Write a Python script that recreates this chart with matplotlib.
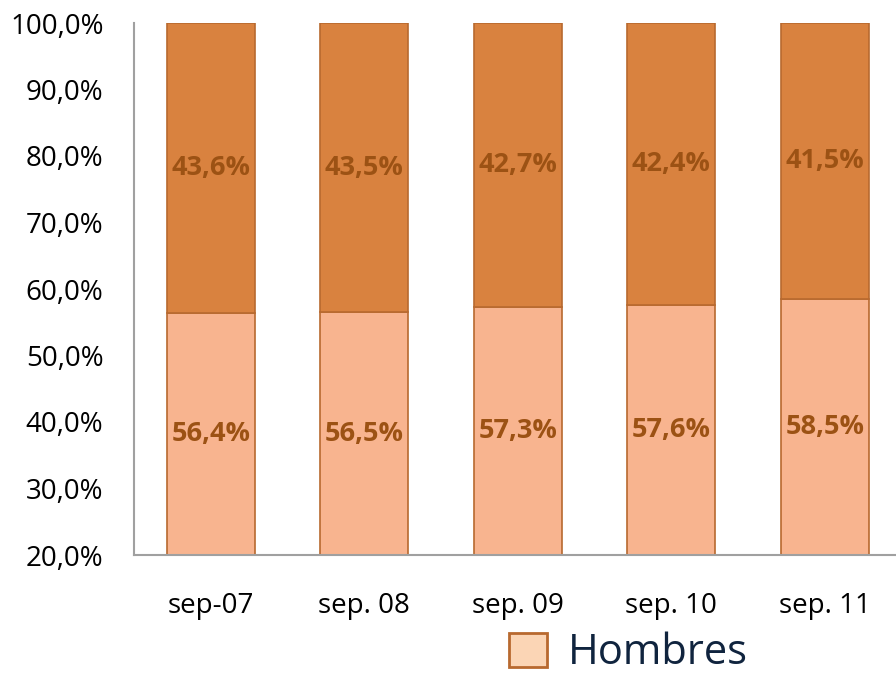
import numpy as np
import matplotlib
matplotlib.use("Agg")
import matplotlib.pyplot as plt
from matplotlib.ticker import FuncFormatter

# data
periodos = ["sep-07", "sep. 08", "sep. 09", "sep. 10", "sep. 11"]
hombres = [56.4, 56.5, 57.3, 57.6, 58.5]
mujeres = [43.6, 43.5, 42.7, 42.4, 41.5]
yticks = [20, 30, 40, 50, 60, 70, 80, 90, 100]

plt.rcParams['font.family'] = ['Open Sans', 'DejaVu Sans']

fig = plt.figure(figsize=(8.96, 6.77), dpi=100)
ax = fig.add_axes([134 / 896, 122 / 677, 767.5 / 896, 532 / 677])

x = np.arange(len(periodos))
edge = "#B8692F"
b1 = ax.bar(x, hombres, width=0.573, color="#F8B48F", edgecolor=edge, linewidth=1.2, label="Hombres")
b2 = ax.bar(x, mujeres, width=0.573, bottom=hombres, color="#D9823F", edgecolor=edge, linewidth=1.2, label="Mujeres")

ymin, ymax = 20, 100
ax.set_ylim(ymin, ymax)
ax.set_xlim(-0.5, 4.5)

lab_col = "#9C5214"
for i in range(len(x)):
    ax.text(x[i], (ymin + hombres[i]) / 2, f"{hombres[i]:.1f}%".replace(".", ","),
            ha="center", va="center", fontsize=19.5, fontweight="bold", color=lab_col)
    ax.text(x[i], hombres[i] + mujeres[i] / 2, f"{mujeres[i]:.1f}%".replace(".", ","),
            ha="center", va="center", fontsize=19.5, fontweight="bold", color=lab_col)

ax.set_yticks(yticks)
ax.yaxis.set_major_formatter(FuncFormatter(lambda v, p: f"{v:.1f}%".replace(".", ",")))
ax.set_xticks(x)
ax.set_xticklabels(periodos)
ax.tick_params(axis="y", length=0, labelsize=20, pad=22)
ax.tick_params(axis="x", length=0, labelsize=20, pad=27)

for s in ["top", "right"]:
    ax.spines[s].set_visible(False)
ax.spines["left"].set_color("#A0A0A0")
ax.spines["bottom"].set_color("#A0A0A0")
ax.spines["left"].set_linewidth(1.5)
ax.spines["bottom"].set_linewidth(1.5)

leg_patch = plt.Rectangle((0, 0), 1, 1, facecolor="#FBD5B5", edgecolor=edge, linewidth=2)
fig.legend([leg_patch], ["Hombres"], loc="center left", bbox_to_anchor=(0.545, 0.035),
           frameon=False, fontsize=30, handlelength=0.9, handleheight=0.9, handletextpad=0.5,
           borderpad=0, labelcolor="#10243E")

fig.savefig("out.png", dpi=100)
